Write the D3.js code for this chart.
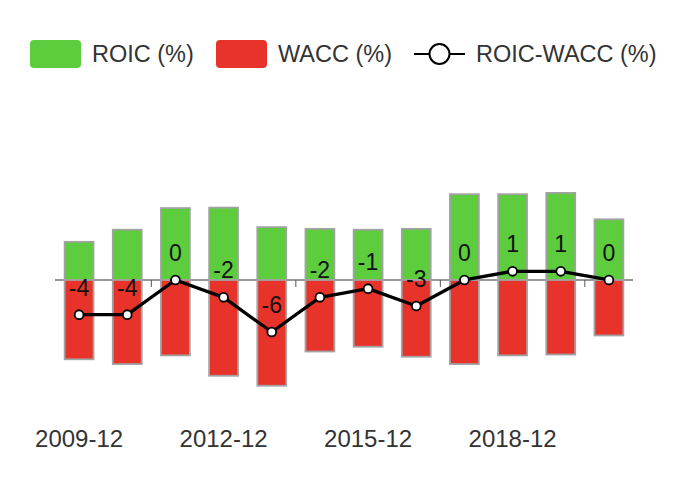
<!DOCTYPE html>
<html>
<head>
<meta charset="utf-8">
<script src="https://cdn.jsdelivr.net/npm/d3@7"></script>
<style>
  body { margin: 0; background: #fff; }
  svg { display: block; font-family: "Liberation Sans", Arial, Helvetica, sans-serif; }
</style>
</head>
<body>
<div id="chart"></div>
<script>
//Chart data
var periods=["2009-12","2010-12","2011-12","2012-12","2013-12","2014-12","2015-12","2016-12","2017-12","2018-12","2019-12","2020-12"];
var roic=[4.4,5.8,8.3,8.35,6.1,5.9,5.8,5.9,9.9,9.9,10.05,7.0];
var wacc=[9.15,9.7,8.7,11.05,12.2,8.25,7.7,8.85,9.7,8.7,8.6,6.4];
var spread=[-4,-4,0,-2,-6,-2,-1,-3,0,1,1,0];
var legendNames=["ROIC (%)","WACC (%)","ROIC-WACC (%)"];

//Sizes
var w=687;
var h=494;
var green="#5dcc3d";
var red="#e8332a";

var svg=d3.select("#chart")
          .append("svg")
          .attr("width",w)
          .attr("height",h);

//Scales
var x=d3.scaleBand()
        .domain(periods)
        .range([55,633])
        .paddingInner(0.4)
        .paddingOuter(0.2);

var y=d3.scaleLinear()
        .domain([-15,10])
        .range([410,193.33]);

//Axis line with ticks between categories
svg.append("line")
   .attr("x1",x.range()[0])
   .attr("x2",x.range()[1])
   .attr("y1",y(0))
   .attr("y2",y(0))
   .style("stroke","#333")
   .style("stroke-width",1.2);

var tickIdx=[2,5,8,11];
svg.append("g")
   .selectAll("line")
   .data(tickIdx)
   .enter()
   .append("line")
   .attr("x1",function(i) {return x(periods[i])-x.step()*x.paddingInner()/2;})
   .attr("x2",function(i) {return x(periods[i])-x.step()*x.paddingInner()/2;})
   .attr("y1",y(0))
   .attr("y2",y(0)+7)
   .style("stroke","#555")
   .style("stroke-width",1);

//X labels every third period
svg.append("g")
   .selectAll("text")
   .data(periods.filter(function(d,i) {return i%3==0;}))
   .enter()
   .append("text")
   .attr("x",function(d) {return x(d)+x.bandwidth()/2;})
   .attr("y",447)
   .attr("text-anchor","middle")
   .style("font-size","24px")
   .style("fill","#333")
   .text(function(d) {return d;});

//ROIC bars (up)
svg.append("g")
   .selectAll("rect")
   .data(periods)
   .enter()
   .append("rect")
   .attr("x",function(d) {return x(d);})
   .attr("y",function(d,i) {return y(roic[i]);})
   .attr("width",x.bandwidth())
   .attr("height",function(d,i) {return y(0)-y(roic[i]);})
   .style("fill",green)
   .style("stroke","#a2a2a2")
   .style("stroke-width",1.8);

//WACC bars (down)
svg.append("g")
   .selectAll("rect")
   .data(periods)
   .enter()
   .append("rect")
   .attr("x",function(d) {return x(d);})
   .attr("y",y(0))
   .attr("width",x.bandwidth())
   .attr("height",function(d,i) {return y(-wacc[i])-y(0);})
   .style("fill",red)
   .style("stroke","#a2a2a2")
   .style("stroke-width",1.8);

//Spread line
var line=d3.line()
           .x(function(d,i) {return x(periods[i])+x.bandwidth()/2;})
           .y(function(d) {return y(d);});

svg.append("path")
   .datum(spread)
   .attr("d",line)
   .style("fill","none")
   .style("stroke","#000")
   .style("stroke-width",3.3)
   .style("stroke-linejoin","round");

svg.append("g")
   .selectAll("circle")
   .data(spread)
   .enter()
   .append("circle")
   .attr("cx",function(d,i) {return x(periods[i])+x.bandwidth()/2;})
   .attr("cy",function(d) {return y(d);})
   .attr("r",4.4)
   .style("fill","#fff")
   .style("stroke","#000")
   .style("stroke-width",1.8);

//Value labels
svg.append("g")
   .selectAll("text")
   .data(spread)
   .enter()
   .append("text")
   .attr("x",function(d,i) {return x(periods[i])+x.bandwidth()/2;})
   .attr("y",function(d) {return y(d)-19;})
   .attr("text-anchor","middle")
   .style("font-size","23px")
   .style("fill","#111")
   .text(function(d) {return d;});

//Legend
var legendX=[30,216,414];
var ly=54;
var legend=svg.append("g");

legend.append("rect")
      .attr("x",legendX[0]).attr("y",ly-14)
      .attr("width",51).attr("height",28)
      .attr("rx",4)
      .style("fill",green);
legend.append("rect")
      .attr("x",legendX[1]).attr("y",ly-14)
      .attr("width",51).attr("height",28)
      .attr("rx",4)
      .style("fill",red);
legend.append("line")
      .attr("x1",legendX[2]).attr("x2",legendX[2]+51)
      .attr("y1",ly).attr("y2",ly)
      .style("stroke","#000")
      .style("stroke-width",2);
legend.append("circle")
      .attr("cx",legendX[2]+25.5).attr("cy",ly)
      .attr("r",10)
      .style("fill","#fff")
      .style("stroke","#000")
      .style("stroke-width",2);

legend.selectAll("text")
      .data(legendNames)
      .enter()
      .append("text")
      .attr("x",function(d,i) {return legendX[i]+62;})
      .attr("y",ly)
      .attr("dominant-baseline","central")
      .style("font-size","23.5px")
      .style("fill","#333")
      .text(function(d) {return d;});
</script>
</body>
</html>
